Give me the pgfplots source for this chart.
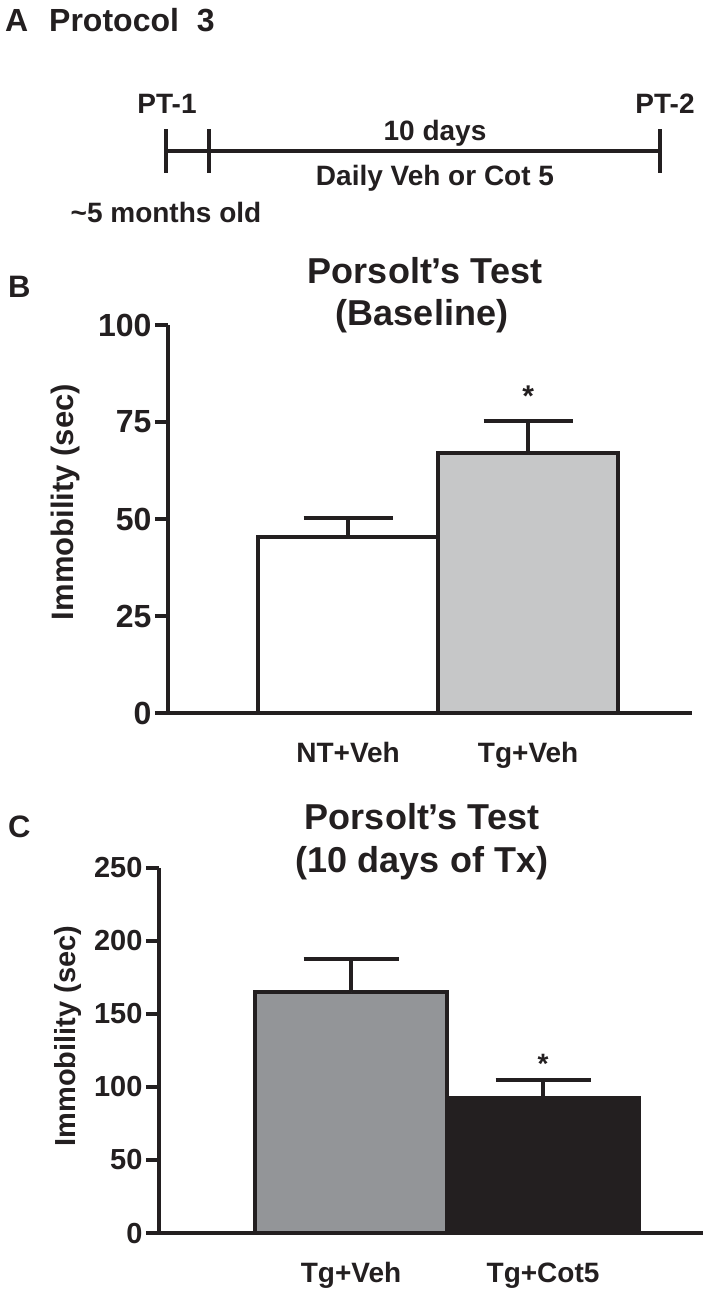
\documentclass[border=0pt]{standalone}
\usepackage{fontspec}
\setmainfont{Liberation Sans}
\usepackage{pgfplots}
\pgfplotsset{compat=1.18}
\definecolor{ink}{HTML}{231F20}
\definecolor{lightg}{HTML}{C6C7C8}
\definecolor{midg}{HTML}{939598}
\newcommand{\fs}[1]{\fontsize{#1}{#1}\selectfont\bfseries}
\pgfplotsset{
  panel/.style={
    scale only axis, clip=false,
    xmin=0, ymin=0,
    axis x line=bottom, axis y line=left,
    axis line style={-, line width=3.8pt, draw=ink},
    tick align=outside, major tick length=13pt,
    tick style={line width=3.8pt, draw=ink},
    major x tick style=transparent,
    xtick={1,2},
    /pgf/number format/assume math mode=true,
    xticklabel style={anchor=base, inner sep=0pt, yshift=-36pt, text=ink},
    yticklabel style={text=ink},
  },
  barstyle/.style={ybar, bar width=1, bar shift=0pt, draw=ink, line width=3.8pt,
    error bars/.cd, y dir=plus, y explicit, error mark=|,
    error bar style={line width=3.8pt, draw=ink},
    error mark options={line width=3.8pt, draw=ink, mark size=#1}},
}
\begin{document}
\begin{tikzpicture}
\path[use as bounding box] (0pt,0pt) rectangle (708pt,-1293pt);
% ---------- Panel A ----------
\node[anchor=base west, inner sep=0pt, text=ink] at (5pt,-31pt) {\fs{32}A};
\node[anchor=base west, inner sep=0pt, text=ink] at (49pt,-31pt) {\fs{32}Protocol\ \ 3};
\draw[ink, line width=4pt] (166pt,-151pt) -- (660pt,-151pt);
\foreach \xx in {166,209,660} {\draw[ink, line width=4pt] (\xx pt,-129pt) -- (\xx pt,-173pt);}
\node[anchor=base, inner sep=0pt, text=ink] at (167pt,-113pt) {\fs{28}PT-1};
\node[anchor=base, inner sep=0pt, text=ink] at (665pt,-113pt) {\fs{28}PT-2};
\node[anchor=base, inner sep=0pt, text=ink] at (435pt,-140pt) {\fs{28}10 days};
\node[anchor=base, inner sep=0pt, text=ink] at (435pt,-185pt) {\fs{28}Daily Veh or Cot 5};
\node[anchor=base, inner sep=0pt, text=ink] at (166pt,-222pt) {\fs{28}{\char"7E}5 months old};
% ---------- Panel B ----------
\node[anchor=base west, inner sep=0pt, text=ink] at (8pt,-297pt) {\fs{31}B};
\node[anchor=base, inner sep=0pt, text=ink] at (425pt,-283pt) {\fs{36}Porsolt’s Test};
\node[anchor=base, inner sep=0pt, text=ink] at (422pt,-325pt) {\fs{36}(Baseline)};
\node[rotate=90, inner sep=0pt, text=ink] at (65pt,-502pt) {\fs{31}Immobility (sec)};
\begin{axis}[panel, at={(168pt,-713pt)}, anchor=south west,
  width=524pt, height=388pt, xmax=2.91, ymax=100,
  ytick={0,25,50,75,100},
  xticklabels={NT+Veh,Tg+Veh},
  xticklabel style={font=\fs{28}},
  yticklabel style={font=\fs{32}}]
\addplot[fill=white, barstyle=44.5pt] coordinates {(1,45.3) +- (0,5.0)};
\addplot[fill=lightg, barstyle=44.5pt] coordinates {(2,67.0) +- (0,8.3)};
\node[anchor=base, inner sep=0pt, text=ink] at (axis cs:2,79) {\fs{30}*};
\end{axis}
% ---------- Panel C ----------
\node[anchor=base west, inner sep=0pt, text=ink] at (8pt,-837pt) {\fs{31}C};
\node[anchor=base, inner sep=0pt, text=ink] at (422pt,-829pt) {\fs{36}Porsolt’s Test};
\node[anchor=base, inner sep=0pt, text=ink] at (422pt,-872pt) {\fs{36}(10 days of Tx)};
\node[rotate=90, inner sep=0pt, text=ink] at (68pt,-1036pt) {\fs{29}Immobility (sec)};
\begin{axis}[panel, at={(159pt,-1233pt)}, anchor=south west,
  width=544pt, height=365pt, xmax=2.833, ymax=250,
  ytick={0,50,100,150,200,250},
  xticklabels={Tg+Veh,Tg+Cot5},
  xticklabel style={font=\fs{28}},
  yticklabel style={font=\fs{29}}]
\addplot[fill=midg, barstyle=47.5pt] coordinates {(1,164.9) +- (0,22.8)};
\addplot[fill=ink, barstyle=47.5pt] coordinates {(2,92.7) +- (0,11.9)};
\node[anchor=base, inner sep=0pt, text=ink] at (axis cs:2,109) {\fs{28}*};
\end{axis}
\end{tikzpicture}
\end{document}
